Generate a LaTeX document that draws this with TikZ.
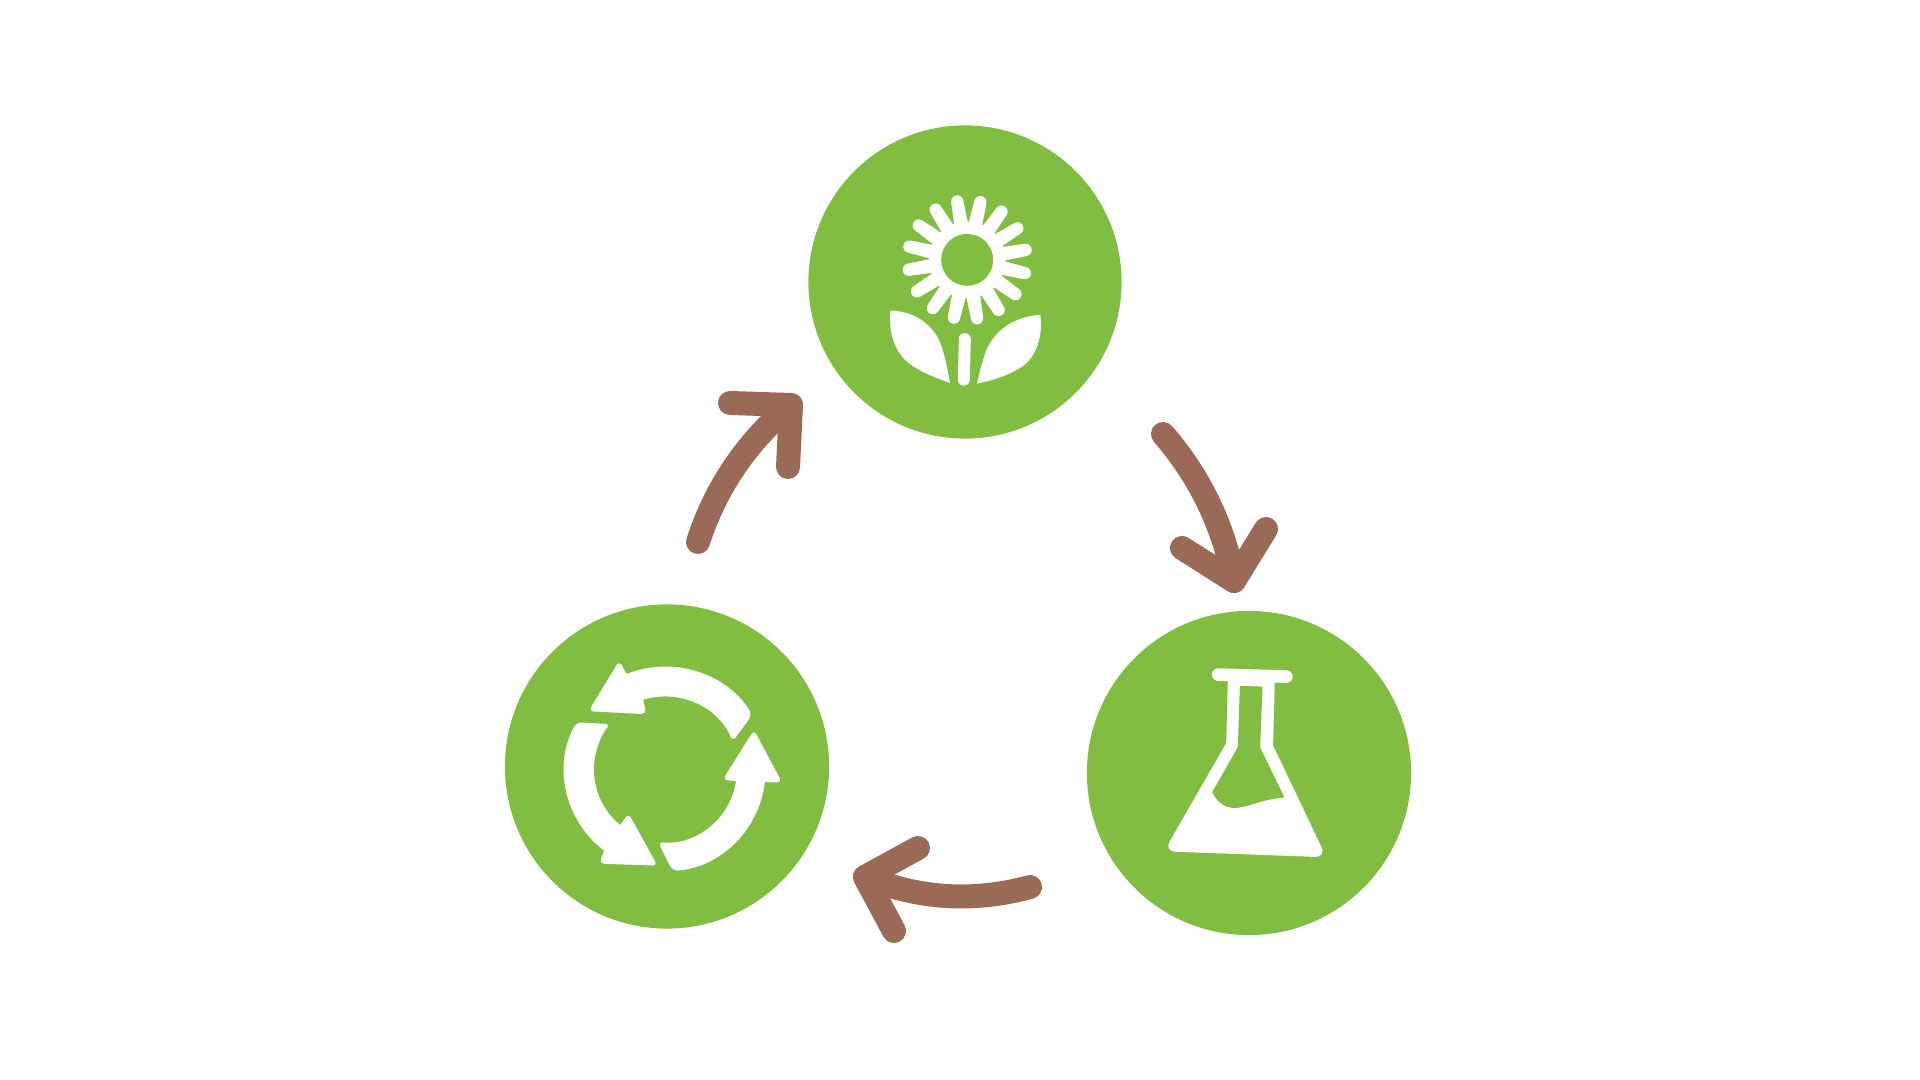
\documentclass[tikz,border=0pt]{standalone}
\usepackage{tikz}
\usetikzlibrary{positioning}
\definecolor{leaf}{HTML}{80BD41}
\definecolor{bark}{HTML}{9A6A56}

\begin{document}
\begin{tikzpicture}[
  x=0.01cm, y=-0.01cm,
  disc/.style={circle, fill=leaf, inner sep=0pt, minimum size=#1},
  arrow/.style={bark, line width=0.24cm, line cap=round, line join=round},
  icon/.style={fill=white, draw=none},
  iconline/.style={white, line cap=round},
  tiny/.style={x=0.00333cm, y=-0.00333cm}
]
  \useasboundingbox (0,0) rectangle (1920,1080);

  \node[disc=3.13cm] (sprout) at (965,282) {};
  \node[disc=3.24cm] (recycle) at (667,766.5) {};
  \node[disc=3.24cm] (flask) at (1249,773) {};

  \coordinate (growTail) at (698,542);
  \coordinate (growTip) at (791,405);
  \coordinate (growBarbA) at (730,403);
  \coordinate (growBarbB) at (788,467);
  \coordinate (testTail) at (1163,434);
  \coordinate (testTip) at (1234,581);
  \coordinate (testBarbA) at (1182,548);
  \coordinate (testBarbB) at (1266,529);
  \coordinate (reuseTail) at (1030,887);
  \coordinate (reuseTip) at (865,877);
  \coordinate (reuseBarbA) at (918,848);
  \coordinate (reuseBarbB) at (894,931);

  \draw[arrow] (growTail) .. controls +(17.8,-54.7) and +(-44.2,36.7) .. (growTip);
  \draw[arrow] (growBarbA) -- (growTip) -- (growBarbB);
  \draw[arrow] (testTail) .. controls +(36.9,42.6) and +(-10.5,-55.4) .. (testTip);
  \draw[arrow] (testBarbA) -- (testTip) -- (testBarbB);
  \draw[arrow] (reuseTail) .. controls +(-56,15.4) and +(54,22) .. (reuseTip);
  \draw[arrow] (reuseBarbA) -- (reuseTip) -- (reuseBarbB);

  \begin{scope}[shift={(860,170)}, tiny]
    \fill[icon] (322,270) circle (115);
    \foreach \ang in {0,...,15}
      \fill[icon, shift={(322,270)}, rotate=-\ang*22.5-12.9] (105,-21) -- (178,-18.5) arc[start angle=-90, end angle=90, radius=18.5] -- (105,21) -- cycle;
    \fill[leaf] (322,270) circle (78);
    \draw[iconline, line width=0.12cm] (315,508) -- (312,630);
    \fill[icon] (92,422) .. controls (170,425) and (225,470) .. (245,530) .. controls (258,570) and (265,610) .. (270,640)
      .. controls (215,620) and (165,600) .. (135,570) .. controls (100,535) and (85,480) .. (92,422) -- cycle;
    \fill[icon] (542,435) .. controls (465,440) and (405,480) .. (378,545) .. controls (368,575) and (358,610) .. (352,642)
      .. controls (400,632) and (455,615) .. (495,585) .. controls (530,555) and (550,500) .. (542,435) -- cycle;
  \end{scope}

  \begin{scope}[shift={(550,650)}, tiny]
    \fill[icon] (230,72) [rounded corners=1.5pt] arc[start angle=248.4, end angle=327.5, radius=312]
      -- (549,275) [sharp corners] arc[start angle=337, end angle=253, radius=222]
      [rounded corners=1.5pt] -- (290,193) -- (116,184) -- (208,32) [sharp corners] -- cycle;
    \fill[icon] (211,526) [rounded corners=1.5pt] arc[start angle=129.2, end angle=219.5, radius=215]
      -- (80,217) [sharp corners] arc[start angle=208.7, end angle=127, radius=302]
      [rounded corners=1.5pt] -- (147,642) -- (323,648) -- (236,491) [sharp corners] -- cycle;
    \fill[icon] (559,394) [rounded corners=1.5pt] arc[start angle=8.6, end angle=95.5, radius=216]
      -- (368,664) [sharp corners] arc[start angle=85.6, end angle=6.7, radius=303]
      [rounded corners=1.5pt] -- (697,398) -- (613,240) -- (519,390) [sharp corners] -- cycle;
  \end{scope}

  \begin{scope}[shift={(1150,650)}, tiny]
    \draw[iconline, line width=0.127cm] (205,74) -- (410,80);
    \fill[icon] (234,85) -- (229,280) [rounded corners=3.2pt] -- (42,605) -- (530,623) [sharp corners] -- (370,287) -- (375,90) -- cycle;
    \fill[leaf] (270,108) -- (338,110) -- (331,293) -- (404,443) .. controls (340,448) and (300,470) .. (260,475)
      .. controls (225,477) and (200,455) .. (187,427) -- (264,292) -- cycle;
  \end{scope}
\end{tikzpicture}
\end{document}
